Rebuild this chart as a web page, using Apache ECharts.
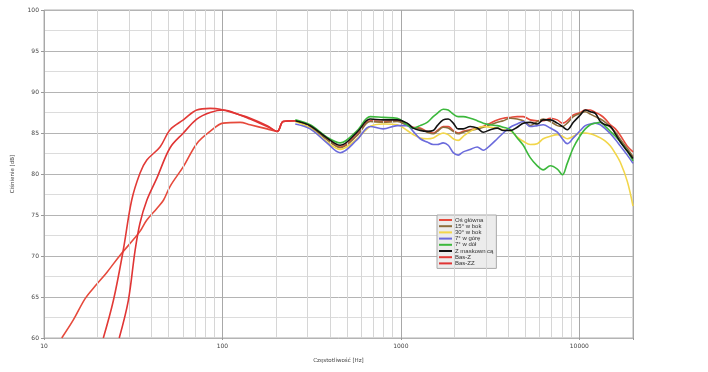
<!DOCTYPE html>
<html><head><meta charset="utf-8">
<script src="https://cdn.jsdelivr.net/npm/echarts@6/dist/echarts.min.js"></script>
<style>html,body{margin:0;padding:0;background:#fff}#c{width:708px;height:372px}</style>
</head><body><div id="c"></div>
<script>
// ---- data ----
const seriesNames = ["Oś główna", "15° w bok", "30° w bok", "7° w górę", "7° w dół", "Z maskownicą", "Bas-Z", "Bas-ZZ"];
const xTickLabels = [10, 100, 1000, 10000];
const yTicks = [60, 65, 70, 75, 80, 85, 90, 95, 100];

// low-frequency part of Oś główna
const freqOsLow = [12.57, 14.6, 17.0, 19.3, 22.5, 26.7, 31.7, 34.5, 37.7, 42.9, 46.7, 50.9, 60.4, 71.8, 85.3, 101, 125.6, 143, 178, 203, 219];
const dbOsLow   = [60.0, 62.2, 64.8, 66.3, 68.0, 70.1, 72.0, 73.0, 74.4, 75.8, 76.8, 78.5, 80.9, 83.7, 85.2, 86.2, 86.3, 86.0, 85.5, 85.2, 86.4];

// shared frequency grid for the measured curves
const freqMain = [256, 310, 385, 457, 569, 673, 796, 954, 1085, 1172, 1283, 1405, 1518, 1600, 1727, 1842, 1966, 2097, 2237, 2448, 2679, 2897, 3170, 3470, 3750, 4103, 4490, 4853, 5310, 5815, 6280, 6880, 7530, 8035, 8560, 9260, 10130, 10810, 11530, 12300, 13130, 14000, 14940, 15930, 17000, 18580, 20000];
const dbOs     = [86.5, 85.8, 84.3, 83.3, 84.8, 86.5, 86.4, 86.5, 86.0, 85.7, 85.6, 85.2, 85.0, 85.3, 85.8, 85.8, 85.3, 85.0, 85.2, 85.4, 85.6, 85.8, 86.2, 86.6, 86.8, 86.9, 87.0, 87.0, 86.6, 86.5, 86.5, 86.8, 86.6, 86.2, 86.5, 87.2, 87.5, 87.8, 87.8, 87.5, 87.2, 86.7, 86.0, 85.5, 84.7, 83.4, 82.7];
const db15     = [86.5, 85.8, 84.2, 83.2, 84.7, 86.4, 86.3, 86.4, 85.9, 85.6, 85.5, 85.1, 84.9, 85.2, 85.7, 85.6, 85.2, 84.9, 85.1, 85.3, 85.5, 85.7, 86.0, 86.3, 86.5, 86.8, 86.7, 86.5, 85.9, 86.4, 86.7, 86.4, 85.9, 85.8, 86.2, 87.0, 87.4, 87.6, 87.3, 87.0, 86.7, 86.3, 85.7, 85.1, 84.2, 83.1, 82.1];
const db30     = [86.4, 85.6, 83.9, 83.0, 84.3, 85.8, 86.1, 86.0, 85.3, 84.8, 84.4, 84.3, 84.4, 84.7, 85.0, 84.8, 84.3, 84.1, 84.6, 85.2, 85.6, 85.8, 85.7, 85.6, 85.4, 85.3, 84.5, 84.0, 83.6, 83.7, 84.3, 84.6, 84.8, 84.6, 84.3, 84.6, 85.0, 85.0, 84.9, 84.7, 84.4, 84.0, 83.4, 82.5, 81.4, 79.1, 76.1];
const dbUp     = [86.1, 85.5, 83.8, 82.6, 84.2, 85.8, 85.5, 85.9, 85.9, 85.2, 84.3, 83.9, 83.6, 83.6, 83.8, 83.5, 82.6, 82.3, 82.7, 83.0, 83.3, 82.9, 83.5, 84.3, 85.0, 85.7, 86.1, 86.4, 85.8, 85.9, 86.0, 85.6, 85.1, 84.3, 83.7, 84.4, 85.3, 85.9, 86.1, 86.2, 86.0, 85.5, 84.9, 84.2, 83.4, 82.3, 81.3];
const dbDown   = [86.6, 86.0, 84.5, 83.8, 85.3, 87.0, 86.9, 86.8, 86.0, 85.6, 85.9, 86.3, 87.0, 87.4, 87.9, 87.8, 87.3, 87.0, 87.0, 86.8, 86.5, 86.2, 86.0, 85.9, 85.7, 85.4, 84.4, 83.5, 82.0, 81.0, 80.5, 81.0, 80.6, 79.9, 81.3, 83.2, 84.7, 85.5, 86.0, 86.2, 86.3, 85.8, 85.2, 84.6, 83.9, 82.8, 81.6];
const dbGrill  = [86.5, 85.9, 84.4, 83.5, 85.1, 86.7, 86.6, 86.6, 86.2, 85.6, 85.3, 85.2, 85.3, 85.9, 86.6, 86.7, 86.2, 85.5, 85.5, 85.8, 85.6, 85.1, 85.4, 85.6, 85.3, 85.3, 85.7, 86.2, 86.3, 86.1, 86.6, 86.6, 86.2, 85.8, 85.4, 86.3, 87.2, 87.8, 87.6, 87.4, 86.4, 86.0, 85.8, 84.9, 83.9, 82.8, 81.9];

const freqBasZ = [21.5, 24.5, 27.8, 31.0, 34.5, 37.7, 44.7, 50.9, 60.4, 71.8, 85.3, 97, 125.6, 143, 178, 203, 219, 256];
const dbBasZ   = [60.0, 64.6, 70.7, 76.8, 80.1, 81.7, 83.3, 85.4, 86.6, 87.8, 88.0, 87.9, 87.2, 86.8, 85.9, 85.2, 86.4, 86.5];
const freqBasZZ = [26.4, 29.7, 32.4, 34.5, 37.7, 42.9, 50.9, 60.4, 71.8, 85.3, 101, 125.6, 143, 178, 203, 219, 256];
const dbBasZZ   = [60.0, 64.6, 70.7, 74.0, 76.8, 79.5, 83.2, 85.0, 86.7, 87.5, 87.8, 87.2, 86.7, 85.8, 85.2, 86.4, 86.5];

// minor log grid positions
const minorFreqs = [20,30,40,50,60,70,80,90,200,300,400,500,600,700,800,900,2000,3000,4000,5000,6000,7000,8000,9000];

// ---- build ----
const zip = (xs, ys) => xs.map((x, i) => [x, ys[i]]);
const colors = ["#e64a3c", "#8d6e3c", "#f2d64a", "#6b6bdc", "#3cb83c", "#111111", "#e23a36", "#e03434"];
const dataSets = [
  zip(freqOsLow, dbOsLow).concat(zip(freqMain, dbOs)),
  zip(freqMain, db15), zip(freqMain, db30), zip(freqMain, dbUp),
  zip(freqMain, dbDown), zip(freqMain, dbGrill),
  zip(freqBasZ, dbBasZ), zip(freqBasZZ, dbBasZZ)
];
const drawOrder = [2, 3, 1, 5, 4, 0, 6, 7];
const series = [{
  type: 'line', data: [], silent: true, z: 0,
  markLine: {
    silent: true, symbol: 'none', label: { show: false }, animation: false,
    lineStyle: { color: '#d6d6d6', width: 1, type: 'solid' },
    data: minorFreqs.map(f => ({ xAxis: f }))
  }
}];
drawOrder.forEach(i => {
  series.push({
    name: seriesNames[i], type: 'line', data: dataSets[i], z: 3 + i,
    showSymbol: false, symbol: 'none', smooth: 0.35,
    lineStyle: { color: colors[i], width: 1.6 }, itemStyle: { color: colors[i] },
    animation: false
  });
});

const font = 'DejaVu Sans';
const chart = echarts.init(document.getElementById('c'), null, { renderer: 'canvas' });
chart.setOption({
  backgroundColor: '#fff',
  animation: false,
  textStyle: { fontFamily: font },
  grid: { left: 44, right: 75, top: 10, bottom: 34, show: true, borderColor: '#b0b0b0', borderWidth: 1, containLabel: false },
  legend: {
    data: seriesNames, orient: 'vertical', left: 437, top: 215,
    icon: 'rect', itemWidth: 13, itemHeight: 2, itemGap: 0.2,
    padding: [2, 3, 2, 2], backgroundColor: '#ececec', borderColor: '#a8a8a8', borderWidth: 1,
    textStyle: { fontSize: 6, color: '#333', fontFamily: 'Liberation Sans', lineHeight: 6, padding: [0, 0, 0, -2] }
  },
  xAxis: {
    type: 'log', logBase: 10, min: 10, max: 20000,
    name: 'Częstotliwość [Hz]', nameLocation: 'middle', nameGap: 20,
    nameTextStyle: { fontSize: 5.5, color: '#444', fontFamily: font },
    axisLine: { show: false },
    axisTick: { show: true, length: 2, lineStyle: { color: '#999' } },
    axisLabel: { fontSize: 6, color: '#444', margin: 5, fontFamily: font,
      formatter: v => xTickLabels.indexOf(Math.round(v)) >= 0 ? String(Math.round(v)) : '' },
    splitLine: { show: true, lineStyle: { color: '#a8a8a8', width: 1 } }
  },
  yAxis: {
    type: 'value', min: yTicks[0], max: yTicks[yTicks.length - 1], interval: 5,
    name: 'Ciśnienie [dB]', nameLocation: 'middle', nameGap: 28,
    nameTextStyle: { fontSize: 5.5, color: '#444', fontFamily: font },
    axisLine: { show: false },
    axisTick: { show: true, length: 3, lineStyle: { color: '#999' } },
    axisLabel: { fontSize: 6, color: '#444', margin: 5, fontFamily: font },
    splitLine: { show: true, lineStyle: { color: '#b4b4b4', width: 1 } },
    minorTick: { show: false, splitNumber: 2 },
    minorSplitLine: { show: true, lineStyle: { color: '#dcdcdc', width: 1 } }
  },
  series: series
});
</script></body></html>
